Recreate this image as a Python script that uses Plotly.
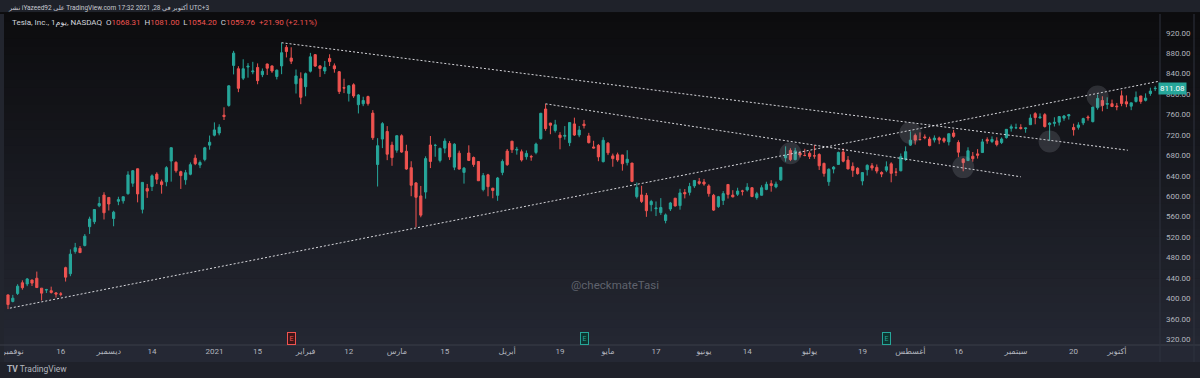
import plotly.graph_objects as go

# ---------------- data (TSLA daily) ----------------
month_days = [
    ("2020-10", [30]),
    ("2020-11", [2, 3, 4, 5, 6, 9, 10, 11, 12, 13, 16, 17, 18, 19, 20, 23, 24, 25, 27, 30]),
    ("2020-12", [1, 2, 3, 4, 7, 8, 9, 10, 11, 14, 15, 16, 17, 18, 21, 22, 23, 24, 28, 29, 30, 31]),
    ("2021-01", [4, 5, 6, 7, 8, 11, 12, 13, 14, 15, 19, 20, 21, 22, 25, 26, 27, 28, 29]),
    ("2021-02", [1, 2, 3, 4, 5, 8, 9, 10, 11, 12, 16, 17, 18, 19, 22, 23, 24, 25, 26]),
    ("2021-03", [1, 2, 3, 4, 5, 8, 9, 10, 11, 12, 15, 16, 17, 18, 19, 22, 23, 24, 25, 26, 29, 30, 31]),
    ("2021-04", [1, 5, 6, 7, 8, 9, 12, 13, 14, 15, 16, 19, 20, 21, 22, 23, 26, 27, 28, 29, 30]),
    ("2021-05", [3, 4, 5, 6, 7, 10, 11, 12, 13, 14, 17, 18, 19, 20, 21, 24, 25, 26, 27, 28]),
    ("2021-06", [1, 2, 3, 4, 7, 8, 9, 10, 11, 14, 15, 16, 17, 18, 21, 22, 23, 24, 25, 28, 29, 30]),
    ("2021-07", [1, 2, 6, 7, 8, 9, 12, 13, 14, 15, 16, 19, 20, 21, 22, 23, 26, 27, 28, 29, 30]),
    ("2021-08", [2, 3, 4, 5, 6, 9, 10, 11, 12, 13, 16, 17, 18, 19, 20, 23, 24, 25, 26, 27, 30, 31]),
    ("2021-09", [1, 2, 3, 7, 8, 9, 10, 13, 14, 15, 16, 17, 20, 21, 22, 23, 24, 27, 28, 29, 30]),
    ("2021-10", [1, 4, 5, 6, 7, 8, 11, 12, 13]),
]
dates = [f"{m}-{d:02d}" for m, ds in month_days for d in ds]

opens = [
    406.9,
    394.0, 409.73, 430.62, 428.3, 436.1, 439.5, 420.09, 416.45, 415.05, 410.85, 408.93, 460.17, 448.35, 492.0, 497.99, 503.5, 540.4, 550.06, 581.16, 602.21,
    597.59, 556.44, 590.02, 591.01, 604.92, 625.51, 653.69, 574.37, 615.01, 619.0, 643.28, 628.23, 628.19, 668.9, 666.24, 648.0, 632.2, 642.99, 674.51, 661.0, 672.0, 699.99,
    719.46, 723.66, 758.49, 777.63, 856.0, 849.4, 831.0, 852.76, 843.39, 852.0, 837.8, 858.74, 855.0, 834.31, 855.0, 891.38, 870.35, 820.0, 830.0,
    814.29, 844.68, 877.02, 855.0, 845.0, 869.67, 855.12, 843.64, 812.44, 801.26, 818.0, 779.09, 780.9, 795.0, 762.64, 662.13, 711.85, 726.65, 700.0,
    690.11, 718.28, 687.99, 655.8, 626.06, 600.55, 608.18, 700.3, 699.4, 670.0, 694.09, 703.35, 656.87, 684.29, 646.6, 684.59, 675.77, 667.91, 613.0, 641.87, 615.64, 601.75, 646.62,
    688.37, 707.71, 690.3, 687.0, 677.38, 677.77, 685.7, 712.7, 770.7, 743.1, 728.65, 719.6, 717.42, 704.77, 741.5, 719.8, 741.0, 717.96, 696.41, 699.51, 667.59,
    703.8, 678.94, 681.06, 680.76, 665.8, 664.9, 599.24, 602.49, 601.54, 583.41, 575.55, 568.0, 552.55, 575.0, 596.11, 581.6, 607.31, 607.56, 620.24, 628.5,
    627.8, 620.13, 601.8, 579.71, 591.83, 623.01, 602.17, 603.88, 610.23, 612.23, 616.69, 597.54, 601.89, 613.37, 624.48, 618.25, 632.0, 674.99, 689.58, 671.64, 684.65, 679.77,
    683.92, 678.98, 681.71, 664.27, 628.37, 653.18, 662.2, 686.32, 670.75, 658.39, 654.68, 629.89, 651.99, 659.61, 656.44, 646.36, 650.97, 663.4, 647.0, 649.79, 671.76,
    700.0, 719.0, 711.0, 716.0, 711.9, 710.17, 713.99, 712.71, 706.34, 723.71, 705.07, 672.66, 669.75, 678.21, 682.85, 685.44, 710.68, 707.03, 708.31, 705.0, 714.72, 733.0,
    734.08, 734.5, 732.25, 740.0, 761.58, 753.41, 759.6, 740.21, 742.57, 745.0, 752.83, 757.15, 734.56, 734.79, 743.53, 755.0, 745.89, 773.12, 787.2, 779.8, 781.0,
    776.58, 796.5, 784.8, 776.2, 785.46, 796.21, 787.65, 800.93, 810.47,
]
highs = [
    407.59,
    406.98, 427.77, 435.4, 440.0, 436.57, 452.5, 420.09, 418.7, 423.0, 412.53, 412.45, 462.0, 496.0, 508.61, 502.5, 526.0, 559.99, 574.0, 598.78, 607.8,
    597.85, 571.54, 598.97, 599.04, 648.79, 651.28, 654.32, 627.75, 624.0, 642.75, 646.9, 632.5, 658.82, 695.0, 668.5, 649.88, 651.5, 666.09, 681.4, 669.9, 696.6, 718.72,
    744.49, 740.84, 774.0, 816.99, 884.49, 854.43, 868.0, 860.47, 863.0, 859.9, 850.0, 859.5, 855.72, 848.0, 900.4, 895.9, 891.5, 848.0, 842.41,
    842.0, 880.5, 878.08, 856.5, 864.77, 877.77, 859.8, 844.82, 829.88, 817.33, 821.0, 799.84, 794.69, 796.79, 768.5, 713.61, 745.0, 737.21, 706.7,
    719.0, 721.11, 700.7, 668.45, 627.84, 620.13, 678.09, 717.85, 702.5, 694.88, 713.18, 707.92, 703.73, 689.23, 657.23, 699.62, 677.8, 668.02, 645.5, 643.82, 616.48, 637.66, 672.0,
    692.42, 708.16, 696.55, 691.38, 689.55, 680.97, 704.8, 763.0, 780.79, 743.69, 749.41, 725.4, 737.25, 744.84, 753.77, 737.36, 749.3, 724.0, 708.5, 702.25, 715.47,
    706.0, 683.45, 685.3, 681.02, 690.0, 665.05, 626.79, 620.41, 606.46, 592.87, 589.73, 596.25, 566.21, 588.85, 596.68, 614.48, 613.99, 626.17, 631.13, 635.59,
    633.8, 623.36, 604.55, 600.61, 610.0, 623.09, 611.79, 616.59, 612.56, 625.49, 616.79, 608.5, 621.47, 628.35, 631.39, 628.57, 657.2, 697.62, 693.81, 694.7, 687.51, 692.81,
    687.99, 700.0, 684.0, 665.7, 654.43, 658.91, 687.24, 693.28, 678.61, 666.14, 656.7, 647.2, 662.39, 664.86, 662.17, 648.8, 668.2, 666.5, 654.97, 683.69, 697.53,
    726.94, 722.65, 724.9, 720.95, 716.33, 719.03, 716.59, 715.18, 722.8, 729.9, 709.5, 674.58, 695.77, 686.55, 692.13, 712.13, 715.22, 716.97, 715.4, 715.0, 731.0, 740.39,
    741.99, 740.97, 734.0, 760.2, 764.45, 762.1, 762.61, 744.78, 754.47, 756.86, 758.91, 761.04, 742.0, 744.74, 753.67, 758.2, 774.8, 799.0, 795.64, 793.5, 789.13,
    782.57, 806.97, 797.31, 782.6, 805.0, 796.38, 801.24, 812.32, 815.41,
]
lows = [
    379.11,
    392.3, 406.69, 417.1, 424.0, 424.28, 421.0, 396.03, 410.58, 409.52, 401.66, 404.09, 433.01, 443.5, 487.57, 489.06, 501.79, 526.2, 545.37, 578.45, 554.51,
    572.05, 541.21, 582.43, 585.5, 603.05, 618.5, 588.0, 566.34, 596.8, 610.2, 623.8, 605.0, 619.5, 628.54, 646.07, 614.23, 622.57, 641.0, 660.8, 655.0, 668.36, 691.12,
    717.19, 719.2, 749.1, 775.2, 838.39, 803.62, 827.34, 832.0, 838.75, 819.1, 833.0, 837.28, 841.42, 828.62, 838.82, 871.6, 858.66, 801.0, 780.1,
    795.56, 842.2, 853.06, 833.42, 838.97, 854.75, 841.75, 800.02, 801.73, 785.33, 792.44, 762.01, 776.27, 777.37, 710.2, 619.0, 694.17, 670.58, 659.51,
    685.05, 685.0, 651.71, 600.0, 539.49, 558.79, 595.21, 655.06, 677.18, 666.14, 684.04, 671.0, 651.01, 652.0, 624.62, 668.75, 657.51, 630.11, 609.5, 599.89, 596.02, 591.01, 641.11,
    659.42, 684.7, 681.37, 667.84, 671.65, 669.43, 682.09, 710.66, 728.03, 721.31, 724.6, 691.8, 710.69, 698.0, 718.04, 715.46, 732.61, 703.35, 693.6, 668.5, 666.14,
    680.5, 657.7, 667.34, 650.0, 660.22, 627.61, 595.6, 586.77, 559.65, 570.46, 561.2, 563.38, 546.98, 571.07, 580.0, 573.65, 595.71, 601.5, 616.21, 622.38,
    620.55, 599.14, 571.22, 577.2, 582.88, 595.5, 597.63, 600.5, 601.52, 609.18, 598.23, 593.5, 601.34, 611.8, 608.88, 615.5, 630.04, 667.61, 668.7, 670.32, 675.89, 678.14,
    672.8, 673.26, 651.4, 638.32, 620.46, 644.69, 662.16, 666.3, 652.84, 637.88, 642.2, 621.29, 640.5, 650.29, 644.6, 637.3, 647.11, 627.24, 639.4, 648.8, 669.0,
    698.4, 701.01, 708.93, 711.41, 697.63, 705.13, 701.88, 704.21, 699.4, 714.34, 676.4, 648.84, 669.35, 667.59, 673.7, 685.0, 702.64, 704.0, 697.62, 702.1, 712.73, 726.44,
    731.27, 730.54, 724.2, 739.26, 740.77, 751.63, 734.52, 708.85, 736.4, 738.36, 747.61, 750.0, 718.62, 730.44, 739.12, 747.92, 744.56, 769.31, 766.18, 770.68, 775.0,
    768.21, 776.12, 774.2, 768.43, 783.38, 780.91, 785.5, 796.57, 805.78,
]
closes = [
    388.04,
    400.51, 423.9, 420.98, 438.09, 429.95, 421.26, 410.36, 417.13, 411.76, 408.5, 408.09, 441.61, 486.64, 499.27, 489.61, 521.85, 555.38, 574.0, 585.76, 567.6,
    584.76, 568.82, 593.38, 599.04, 641.76, 649.88, 604.48, 627.07, 609.99, 639.83, 633.25, 622.77, 655.9, 695.0, 649.86, 640.34, 645.98, 661.77, 663.69, 665.99, 694.78, 705.67,
    729.77, 735.11, 755.98, 816.04, 880.02, 811.19, 849.44, 854.41, 845.0, 826.16, 844.55, 850.45, 844.99, 846.64, 880.8, 883.09, 864.16, 835.43, 793.53,
    839.81, 872.79, 854.69, 849.99, 852.23, 863.42, 849.46, 804.82, 811.66, 816.12, 796.22, 798.15, 787.38, 781.3, 714.5, 698.84, 742.02, 682.22, 675.5,
    718.43, 686.44, 653.2, 621.44, 597.95, 563.0, 673.58, 668.06, 699.6, 693.73, 707.94, 676.88, 701.81, 653.16, 654.87, 670.0, 662.16, 630.27, 640.39, 618.71, 611.29, 635.62, 667.93,
    661.75, 691.05, 691.62, 670.97, 683.8, 677.02, 701.98, 762.32, 732.23, 738.85, 739.78, 714.63, 718.99, 744.12, 719.69, 729.4, 738.2, 704.74, 694.4, 677.0, 709.44,
    684.9, 673.6, 670.94, 663.54, 672.37, 629.04, 617.2, 589.89, 571.69, 589.74, 576.83, 577.87, 563.46, 586.78, 580.88, 606.44, 604.69, 619.13, 630.85, 625.22,
    623.9, 605.12, 572.84, 599.05, 605.13, 603.59, 598.78, 610.12, 609.89, 617.69, 599.36, 604.87, 616.6, 623.31, 620.83, 623.71, 656.57, 679.82, 671.87, 688.72, 680.76, 679.7,
    677.92, 678.9, 659.58, 644.65, 652.81, 656.95, 685.7, 668.54, 653.38, 650.6, 644.22, 646.22, 660.5, 655.29, 649.26, 643.38, 657.62, 644.78, 646.98, 677.35, 687.2,
    709.67, 709.74, 710.92, 714.63, 699.1, 713.76, 709.99, 707.82, 722.25, 717.17, 686.17, 665.71, 688.99, 673.47, 680.26, 706.3, 708.49, 711.2, 701.16, 711.92, 730.91, 735.72,
    734.09, 732.39, 733.57, 752.92, 753.87, 754.86, 736.27, 743.0, 744.49, 755.83, 756.99, 759.49, 730.17, 739.38, 751.94, 753.64, 774.39, 791.36, 777.56, 781.31, 775.48,
    775.22, 781.53, 780.59, 782.75, 793.61, 785.49, 791.94, 805.72, 811.08,
]

# time-axis labels
x_tick_dates = ["2020-11-02", "2020-11-16", "2020-12-01", "2020-12-14", "2021-01-04", "2021-01-15",
                "2021-02-01", "2021-02-12", "2021-03-01", "2021-03-15", "2021-04-01", "2021-04-19",
                "2021-05-03", "2021-05-17", "2021-06-01", "2021-06-14", "2021-07-01", "2021-07-19",
                "2021-08-02", "2021-08-16", "2021-09-01", "2021-09-20", "2021-10-01"]
x_tick_text = ["نوفمبر", "16", "ديسمبر", "14", "2021", "15", "فبراير", "12", "مارس", "15", "أبريل", "19",
               "مايو", "17", "يونيو", "14", "يوليو", "19", "أغسطس", "16", "سبتمبر", "20", "أكتوبر"]
y_tick_vals = [320, 360, 400, 440, 480, 520, 560, 600, 640, 680, 720, 760, 800, 840, 880, 920]
y_tick_text = [f"{v:.2f}" for v in y_tick_vals]

# drawings on the chart (bar index, price)
trend_lines = [((0.4, 381.0), (239.8, 825.0)),
               ((57.0, 900.4), (233.3, 690.0)),
               ((112.0, 780.8), (211.0, 638.0))]
highlight_circles = [(163, 684.0), (188, 724.0), (199, 657.0), (217, 707.0), (227, 795.0)]
earnings_dates = ["2021-01-27", "2021-04-26", "2021-07-26"]
earnings_colors = [("#ef5350", "#3d1518"), ("#26a69a", "#0e3531"), ("#26a69a", "#0e3531")]
last_price = closes[-1]

# ---------------- figure ----------------
W, H = 1200, 378
ML, MR, MT, MB = 0, 40, 14, 33
PW, PH = W - ML - MR, H - MT - MB
BAR_PX = 4.8
X0_PX = 8.0
x_range = [-X0_PX / BAR_PX, (PW - X0_PX) / BAR_PX]
y_range = [308.85, 956.6]
px_per_price = PH / (y_range[1] - y_range[0])

GREEN = "#26a69a"
RED = "#ef5350"
FONT = "Roboto, 'DejaVu Sans', sans-serif"

fig = go.Figure()
fig.add_trace(go.Candlestick(
    x=dates, open=opens, high=highs, low=lows, close=closes,
    increasing=dict(line=dict(color=GREEN, width=1), fillcolor=GREEN),
    decreasing=dict(line=dict(color=RED, width=1), fillcolor=RED),
    whiskerwidth=0, showlegend=False, hoverinfo="skip",
))

shapes = []
# gradient background (chart pane + price scale)
top_c = (12, 12, 14)
bot_c = (36, 39, 50)
N = 40
xr = W / PW
for k in range(N):
    t = (k + 0.5) / N
    c = tuple(int(round(top_c[j] + (bot_c[j] - top_c[j]) * t)) for j in range(3))
    shapes.append(dict(type="rect", xref="paper", yref="paper", x0=0, x1=xr,
                       y0=1 - (k + 1) / N, y1=1 - k / N + 0.002,
                       fillcolor="rgb(%d,%d,%d)" % c, line_width=0, layer="below"))
# time axis strip
shapes.append(dict(type="rect", xref="paper", yref="paper", x0=0, x1=xr, y0=-17 / PH, y1=0,
                   fillcolor="#252834", line_width=0, layer="below"))
# bottom branding strip
shapes.append(dict(type="rect", xref="paper", yref="paper", x0=0, x1=xr, y0=-MB / PH, y1=-17 / PH,
                   fillcolor="#1f212a", line_width=0, layer="below"))
# header strip
shapes.append(dict(type="rect", xref="paper", yref="paper", x0=0, x1=xr, y0=1 + 2 / PH, y1=1 + MT / PH,
                   fillcolor="#1f222a", line_width=0, layer="below"))
# left border strip
shapes.append(dict(type="rect", xref="paper", yref="paper", x0=0, x1=4 / PW, y0=-17 / PH, y1=1,
                   fillcolor="#22252e", line_width=0, layer="above"))
# pane separators
shapes.append(dict(type="line", xref="paper", yref="paper", x0=0, x1=xr, y0=0, y1=0,
                   line=dict(color="#3a3e49", width=1)))
shapes.append(dict(type="line", xref="paper", yref="paper", x0=1, x1=1, y0=-17 / PH, y1=1,
                   line=dict(color="#2f333e", width=1)))
shapes.append(dict(type="line", xref="paper", yref="paper", x0=1194 / PW, x1=1194 / PW, y0=-17 / PH, y1=1,
                   line=dict(color="#2f333e", width=1)))

# trend lines
for (xa, ya), (xb, yb) in trend_lines:
    shapes.append(dict(type="line", xref="x", yref="y", x0=xa, y0=ya, x1=xb, y1=yb,
                       line=dict(color="rgba(235,235,240,0.9)", width=1, dash="2px,2px"), layer="above"))
# highlight circles
rx = 11 / BAR_PX
ry = 11 / px_per_price
for cx, cy in highlight_circles:
    shapes.append(dict(type="circle", xref="x", yref="y", x0=cx - rx, x1=cx + rx, y0=cy - ry, y1=cy + ry,
                       fillcolor="rgba(160,163,175,0.2)", line_width=0, layer="above"))

annotations = []
# header line 1
hdr1 = "نشر iYazeed92 على TradingView.com 17:32 2021 ,28 أكتوبر في UTC+3"
annotations.append(dict(text=hdr1, xref="paper", yref="paper", x=6 / PW, y=1 + (MT - 7) / PH,
                        xanchor="left", yanchor="middle", showarrow=False,
                        font=dict(family=FONT, size=6.5, color="#c8cad2")))
# header line 2
hdr_vals = {"O": "1068.31", "H": "1081.00", "L": "1054.20", "C": "1059.76"}
hdr2 = ("<span style='color:#d1d4dc'>Tesla, Inc., 1يوم, NASDAQ</span>  "
        + "  ".join(f"<span style='color:#d1d4dc'>{k}</span><span style='color:{RED}'>{hdr_vals[k]}</span>"
                    for k in ["O", "H", "L", "C"])
        + f"  <span style='color:{RED}'>+21.90 (+2.11%)</span>")
annotations.append(dict(text=hdr2, xref="paper", yref="paper", x=10 / PW, y=1 - (22 - MT) / PH,
                        xanchor="left", yanchor="middle", showarrow=False,
                        font=dict(family=FONT, size=8, color="#d1d4dc")))
# watermark
annotations.append(dict(text="@checkmateTasi", xref="paper", yref="paper", x=615 / PW, y=(345 - 285) / PH,
                        xanchor="center", yanchor="middle", showarrow=False,
                        font=dict(family=FONT, size=11.5, color="#5f626d")))
# earnings markers
for d, (lc, bg) in zip(earnings_dates, earnings_colors):
    annotations.append(dict(text="E", xref="x", yref="paper", x=d, y=7 / PH,
                            xanchor="center", yanchor="middle", showarrow=False,
                            font=dict(family=FONT, size=7, color=lc),
                            bgcolor=bg, bordercolor=lc, borderwidth=1, borderpad=1.5))
# last price label
annotations.append(dict(text=f"{last_price:.2f}", xref="paper", yref="y", x=1158 / PW, y=last_price,
                        xanchor="left", yanchor="middle", showarrow=False,
                        font=dict(family=FONT, size=8, color="#ffffff"),
                        bgcolor=GREEN, borderpad=1))
# branding
annotations.append(dict(text="<b>TV</b> TradingView", xref="paper", yref="paper", x=5 / PW, y=-(369 - 345) / PH,
                        xanchor="left", yanchor="middle", showarrow=False,
                        font=dict(family=FONT, size=8.5, color="#b2b5be")))

fig.update_layout(
    width=W, height=H,
    margin=dict(l=ML, r=MR, t=MT, b=MB),
    paper_bgcolor="#0d0d0f", plot_bgcolor="rgba(0,0,0,0)",
    showlegend=False,
    shapes=shapes, annotations=annotations,
    font=dict(family=FONT, color="#b2b5be"),
    xaxis=dict(type="category", range=x_range, rangeslider=dict(visible=False),
               tickmode="array", tickvals=x_tick_dates, ticktext=x_tick_text,
               showgrid=False, zeroline=False, showline=False, ticks="",
               tickfont=dict(family=FONT, size=8, color="#b2b5be"), tickangle=0,
               fixedrange=True),
    yaxis=dict(side="right", range=y_range, tickmode="array", tickvals=y_tick_vals, ticktext=y_tick_text,
               showgrid=False, zeroline=False, showline=False, ticks="",
               tickfont=dict(family=FONT, size=8, color="#b2b5be"), ticklabelstandoff=5,
               fixedrange=True),
    boxgap=0.35,
)

fig.write_html(
    "out.html",
    config={"displayModeBar": False},
    post_script=("document.documentElement.style.margin='0';document.body.style.margin='0';"
                 "document.body.style.padding='0';document.body.style.background='#0d0d0f';"
                 "document.body.style.overflow='hidden';"),
)
